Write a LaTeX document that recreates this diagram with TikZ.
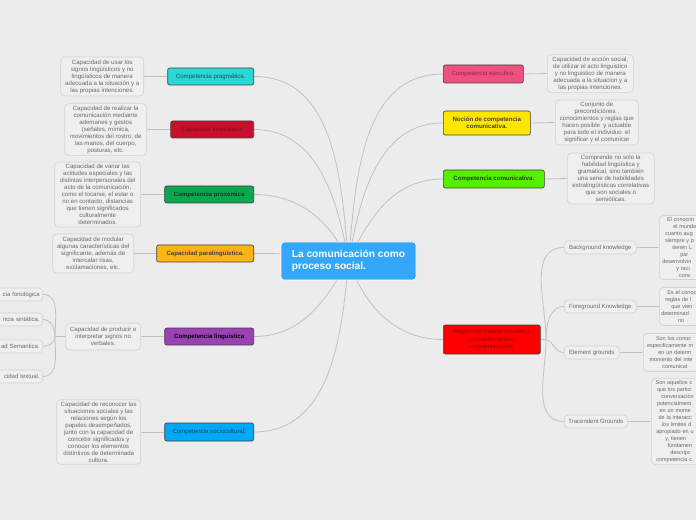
\documentclass[tikz,border=0pt]{standalone}
\usepackage{fontspec}
\setmainfont{Liberation Sans}
\usepackage{xcolor}
\usetikzlibrary{positioning, backgrounds}

\definecolor{fondo}{RGB}{236,236,236}
\definecolor{rellenonota}{RGB}{239,239,239}
\definecolor{bordenota}{RGB}{210,210,210}
\definecolor{textonota}{RGB}{105,105,105}
\definecolor{linea}{RGB}{192,192,192}
\definecolor{central}{RGB}{51,167,250}
\definecolor{cpragma}{RGB}{42,214,214}
\definecolor{ckine}{RGB}{200,16,46}
\definecolor{cprox}{RGB}{12,168,80}
\definecolor{cpara}{RGB}{250,180,20}
\definecolor{cling}{RGB}{155,65,180}
\definecolor{csocio}{RGB}{0,168,245}
\definecolor{cejec}{RGB}{240,80,128}
\definecolor{cnocion}{RGB}{255,230,0}
\definecolor{ccomu}{RGB}{85,240,0}
\definecolor{creglas}{RGB}{255,0,0}

\begin{document}
\begin{tikzpicture}[x=1pt, y=1pt,
    link/.style={draw=linea, line width=0.8pt},
    tema/.style={draw=black!75, line width=0.6pt, rounded corners=2pt, minimum height=17pt, inner sep=2pt, align=center, font=\fontsize{6.1}{7.2}\selectfont},
    nota/.style={draw=bordenota, fill=rellenonota, line width=0.6pt, rounded corners=4pt, inner sep=2pt, align=center, text=textonota, font=\fontsize{6.1}{7}\selectfont},
    borde/.style={nota, align=left, font=\fontsize{5.5}{7}\selectfont},
    hoja/.style={nota, minimum height=13pt, inner sep=3pt, font=\fontsize{6}{7}\selectfont}]
  \useasboundingbox (0,0) rectangle (696,520);

  % nodo central
  \node[draw=white, line width=0.8pt, fill=central, rounded corners=3pt, text=white, minimum width=135pt, minimum height=38pt, align=left, font=\fontsize{10.2}{12}\selectfont\bfseries] (centro) at (348.5,259) {La comunicación como\\proceso social.};

  % ramas de la izquierda
  \node[tema, fill=cpragma, text=cpragma!40!black, minimum width=86pt, anchor=east] (pragma) at (254,443.5) {Competencia pragmática.};
  \node[tema, fill=ckine, text=ckine!65!black, minimum width=83pt, anchor=east] (kine) at (254,390.5) {Capacidad kinestésica};
  \node[tema, fill=cprox, text=cprox!35!black, font=\fontsize{6.1}{7.2}\selectfont\bfseries, minimum width=89pt, anchor=east] (prox) at (254,325.5) {Competencia proxémica};
  \node[tema, fill=cpara, text=black!75, font=\fontsize{6.1}{7.2}\selectfont\bfseries, minimum width=97pt, anchor=east] (para) at (254,266.5) {Capacidad paralingüística.};
  \node[tema, fill=cling, text=black, font=\fontsize{6.1}{7.2}\selectfont\bfseries, minimum width=89pt, anchor=east] (ling) at (254,183.5) {Competencia linguistica};
  \node[tema, fill=csocio, text=csocio!40!black, minimum width=89pt, minimum height=18pt, anchor=east] (socio) at (254,88) {Competencia sociocultural.};

  \node[nota, minimum width=83pt, minimum height=39pt, anchor=east] (npragma) at (144,443.5) {Capacidad de usar los\\signos lingüísticos y no\\lingüísticos de manera\\adecuada a la situación y a\\las propias intenciones.};
  \node[nota, minimum width=82pt, minimum height=51pt, anchor=east] (nkine) at (147,390.5) {Capacidad de realizar la\\comunicación mediante\\ademanes y gestos\\(señales, mímica,\\movimientos del rostro, de\\las manos, del cuerpo,\\posturas, etc.};
  \node[nota, minimum width=86pt, minimum height=65pt, anchor=east] (nprox) at (141,325.5) {Capacidad de variar las\\actitudes especiales y las\\distintas interpersonales del\\acto de la comunicación,\\como el tocarse, el estar o\\no en contacto, distancias\\que tienen significados\\culturalmente\\determinados.};
  \node[nota, minimum width=81pt, minimum height=39pt, anchor=east] (npara) at (134,266.5) {Capacidad de modular\\algunas características del\\significante, además de\\intercalar risas,\\exclamaciones, etc.};
  \node[nota, minimum width=75pt, minimum height=27pt, anchor=east] (nling) at (141,183.5) {Capacidad de producir e\\interpretar signos no\\verbales.};
  \node[nota, minimum width=84pt, minimum height=64pt, anchor=east] (nsocio) at (141,88) {Capacidad de reconocer las\\situaciones sociales y las\\relaciones según los\\papeles desempeñados,\\junto con la capacidad de\\concebir significados y\\conocer los elementos\\distintivos de determinada\\cultura.};

  % hojas cortadas por el borde izquierdo
  \node[hoja, text width=62pt, align=right, anchor=east] (fono) at (43,225.5) {cia fonológica};
  \node[hoja, text width=62pt, align=right, anchor=east] (sint) at (43,200.5) {ncia sintática.};
  \node[hoja, text width=62pt, align=right, anchor=east] (sema) at (43,173.5) {ad Semantica.};
  \node[hoja, text width=62pt, align=right, anchor=east] (text) at (43,143.5) {cidad textual.};
  \coordinate (lhub) at (55,183.5);

  % ramas de la derecha
  \node[tema, fill=cejec, text=cejec!55!black, minimum width=80pt, minimum height=18pt, anchor=west] (ejec) at (443,446) {Competencia ejecutiva.};
  \node[tema, fill=cnocion, text=black!75, font=\fontsize{6.1}{7.2}\selectfont\bfseries, minimum width=87pt, minimum height=24pt, anchor=west] (nocion) at (443,397) {Noción de competencia\\comunicativa.};
  \node[tema, fill=ccomu, text=ccomu!30!black, font=\fontsize{6.1}{7.2}\selectfont\bfseries, minimum width=101pt, minimum height=18pt, anchor=west] (comu) at (443,341) {Competencia comunicativa.};
  \node[tema, fill=creglas, text=creglas!70!black, font=\fontsize{6.1}{7.2}\selectfont\bfseries, minimum width=97pt, minimum height=29pt, anchor=west] (reglas) at (443,180.5) {Reglas de interpretación y\\procedimientos\\interpretativos};

  \node[nota, minimum width=86pt, minimum height=37pt, anchor=west] (nejec) at (547,446.5) {Capacidad de acción social,\\de utilizar el acto linguistico\\y no linguistico de manera\\adecuada a la situacion y a\\las propias intenciones.};
  \node[nota, minimum width=83pt, minimum height=45pt, anchor=west] (nnocion) at (555,397.5) {Conjunto de\\precondiciónes ,\\conocimientos y reglas que\\hacen posible \ y actuable\\para todo el individuo \ el\\significar y el comunicar};
  \node[nota, minimum width=87pt, minimum height=51pt, anchor=west] (ncomu) at (567,341.5) {Comprende no solo la\\habilidad lingüística y\\gramatical, sino también\\una serie de habilidades\\extralingüísticas correlativas\\que son sociales o\\semióticas.};

  % subramas de las reglas
  \coordinate (rhub) at (546,180.5);
  \node[hoja, minimum width=72pt, anchor=west] (backk) at (564,272.5) {Background knowledge};
  \node[hoja, minimum width=72pt, anchor=west] (forek) at (564,213.5) {Foreground Knowledge};
  \node[hoja, minimum width=55pt, anchor=west] (elemg) at (564,167.5) {Element grounds};
  \node[hoja, minimum width=63pt, anchor=west] (tracg) at (564,98.5) {Tracendent Grounds};

  \node[borde, text width=72pt, minimum height=64pt, anchor=west] (nbackk) at (659,272.5) {\hspace*{5.7pt}El conocim\\\hspace*{12pt}el mundo\\\hspace*{4pt}cuanto aug\\\hspace*{3.7pt}siempre y p\\\hspace*{11pt}tienen L\\\hspace*{19pt}par\\\hspace*{1pt}desenvolvin\\\hspace*{15pt}y raci\\\hspace*{17.7pt}conv};
  \node[borde, text width=72pt, minimum height=38pt, anchor=west] (nforek) at (659,213.5) {\hspace*{6pt}Es el conoc\\\hspace*{4pt}reglas de l\\\hspace*{10pt}que vien\\determinad\\\hspace*{16.7pt}no};
  \node[borde, text width=80pt, minimum height=38pt, anchor=west] (nelemg) at (643,167.5) {\hspace*{10.7pt}Son los conoc\\\hspace*{1.7pt}especificamente m\\\hspace*{13pt}en un determ\\\hspace*{4.3pt}momento del inte\\\hspace*{17pt}comunicat};
  \node[borde, text width=76pt, minimum height=83pt, anchor=west] (ntracg) at (651,98.5) {\hspace*{2.3pt}Son aquellos c\\\hspace*{3.7pt}que los partici\\\hspace*{8pt}conversación\\\hspace*{3.7pt}potencialment\\\hspace*{6.3pt}en un mome\\\hspace*{5.3pt}de la interacc\\\hspace*{8.7pt}los limites d\\\hspace*{3pt}apropiado en u\\\hspace*{12pt}y, tienen\\\hspace*{14.3pt}fundamen\\\hspace*{17pt}descripc\\\hspace*{3pt}competencia c};

  % conectores
  \begin{scope}[on background layer]
    \fill[fondo] (0,0) rectangle (696,520);
    \draw[link] (centro.center) to[out=95, in=0] (pragma.east);
    \draw[link] (centro.center) to[out=100, in=0] (kine.east);
    \draw[link] (centro.center) to[out=115, in=0] (prox.east);
    \draw[link] (centro.center) to[out=170, in=0] (para.east);
    \draw[link] (centro.center) to[out=-120, in=0] (ling.east);
    \draw[link] (centro.center) to[out=-95, in=0] (socio.east);
    \draw[link] (centro.center) to[out=85, in=180] (ejec.west);
    \draw[link] (centro.center) to[out=80, in=180] (nocion.west);
    \draw[link] (centro.center) to[out=65, in=180] (comu.west);
    \draw[link] (centro.center) to[out=-70, in=180] (reglas.west);

    \draw[link] (pragma.west) -- (npragma.east);
    \draw[link] (kine.west) -- (nkine.east);
    \draw[link] (prox.west) -- (nprox.east);
    \draw[link] (para.west) -- (npara.east);
    \draw[link] (ling.west) -- (nling.east);
    \draw[link] (socio.west) -- (nsocio.east);
    \draw[link] (nling.west) -- (lhub);
    \draw[link] (lhub) to[out=90, in=0] (fono.east);
    \draw[link] (lhub) to[out=90, in=0] (sint.east);
    \draw[link] (lhub) to[out=-90, in=0] (sema.east);
    \draw[link] (lhub) to[out=-90, in=0] (text.east);

    \draw[link] (ejec.east) -- (nejec.west);
    \draw[link] (nocion.east) -- (nnocion.west);
    \draw[link] (comu.east) -- (ncomu.west);
    \draw[link] (reglas.east) -- (rhub);
    \draw[link] (rhub) to[out=90, in=180] (backk.west);
    \draw[link] (rhub) to[out=90, in=180] (forek.west);
    \draw[link] (rhub) to[out=-20, in=180] (elemg.west);
    \draw[link] (rhub) to[out=-90, in=180] (tracg.west);
    \draw[link] (backk.east) -- (nbackk.west);
    \draw[link] (forek.east) -- (nforek.west);
    \draw[link] (elemg.east) -- (nelemg.west);
    \draw[link] (tracg.east) -- (ntracg.west);
  \end{scope}
\end{tikzpicture}
\end{document}
